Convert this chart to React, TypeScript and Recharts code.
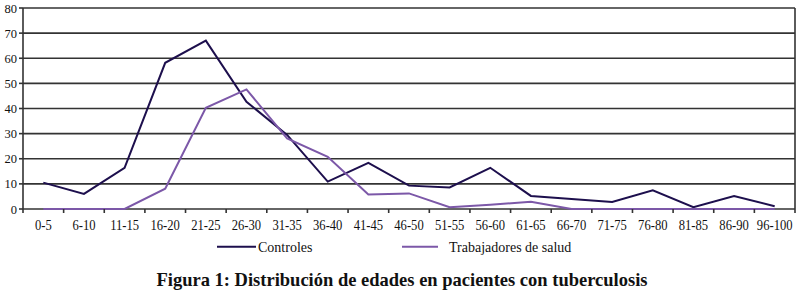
import React from 'react';
import { LineChart, Line, XAxis, YAxis, CartesianGrid } from 'recharts';

const categories = ['0-5', '6-10', '11-15', '16-20', '21-25', '26-30', '31-35', '36-40', '41-45', '46-50', '51-55', '56-60', '61-65', '66-70', '71-75', '76-80', '81-85', '86-90', '96-100'];
const controles = [10.5, 6, 16.4, 58.2, 67, 42.7, 29.5, 10.9, 18.4, 9.3, 8.6, 16.4, 5.2, 4, 2.8, 7.4, 0.7, 5.2, 1.1];
const trabajadores = [0, 0, 0, 8.1, 40.3, 47.6, 28.1, 20.8, 5.8, 6.2, 0.7, 1.7, 2.9, 0, 0, 0, 0, 0, 0];
const yTicks = [0, 10, 20, 30, 40, 50, 60, 70, 80];
const seriesNames = ['Controles', 'Trabajadores de salud'];
const seriesColors = ['#1d0f4d', '#7c58a8'];
const title = 'Figura 1: Distribución de edades en pacientes con tuberculosis';

const data = categories.map((c, i) => ({ x: i + 0.5, cat: c, controles: controles[i], trabajadores: trabajadores[i] }));
const xTicks: number[] = [];
for (let i = 0; i <= categories.length; i++) {
  xTicks.push(i);
  if (i < categories.length) xTicks.push(i + 0.5);
}

const FONT = 'Liberation Serif, Times New Roman, Times, serif';
const GRID = '#333333';
const GW = 1.6;

const XTick = (props: any) => {
  const { x, y, payload } = props;
  const v = payload.value as number;
  if (Number.isInteger(v)) {
    return <line x1={x} x2={x} y1={y} y2={y + 4} stroke={GRID} strokeWidth={GW} />;
  }
  const label = categories[Math.floor(v)];
  return (
    <text transform={`translate(${x},${y + 21}) scale(0.9,1)`} textAnchor="middle" fontFamily={FONT} fontWeight={400} fontSize={14} fill="#111">
      {label}
    </text>
  );
};

const YTick = (props: any) => {
  const { x, y, payload } = props;
  return (
    <text x={x} y={y + 4.5} textAnchor="end" fontFamily={FONT} fontWeight={400} fontSize={12.5} fill="#111">
      {payload.value}
    </text>
  );
};

const legendLine = [[217, 256], [402, 438]];
const legendText = [258, 449];

export default function App() {
  return (
    <div style={{ position: 'absolute', left: 0, top: 0, width: 800, height: 292, background: '#fff', fontFamily: FONT }}>
      <LineChart width={800} height={292} data={data} margin={{ top: 8, right: 0, left: 0, bottom: 57 }}>
        <CartesianGrid vertical={false} stroke={GRID} strokeWidth={GW} yAxisId="l" />
        <XAxis
          dataKey="x"
          type="number"
          domain={[0, categories.length]}
          ticks={xTicks}
          interval={0}
          tick={<XTick />}
          tickLine={false}
          tickSize={0}
          tickMargin={0}
          axisLine={false}
          height={26}
          allowDecimals
        />
        <YAxis
          yAxisId="l"
          domain={[0, 80]}
          ticks={yTicks}
          interval={0}
          width={23}
          tick={<YTick />}
          tickSize={4}
          tickMargin={2}
          tickLine={{ stroke: GRID, strokeWidth: GW }}
          axisLine={{ stroke: GRID, strokeWidth: GW }}
        />
        <YAxis yAxisId="r" orientation="right" width={5} domain={[0, 80]} tick={false} tickLine={false} axisLine={{ stroke: GRID, strokeWidth: GW }} />
        <Line yAxisId="l" type="linear" dataKey="controles" name={seriesNames[0]} stroke={seriesColors[0]} strokeWidth={2} dot={false} isAnimationActive={false} />
        <Line yAxisId="l" type="linear" dataKey="trabajadores" name={seriesNames[1]} stroke={seriesColors[1]} strokeWidth={2} dot={false} isAnimationActive={false} />
      </LineChart>
      <svg width={800} height={62} style={{ position: 'absolute', left: 0, top: 230, display: 'block' }}>
        {seriesNames.map((n, i) => (
          <g key={n}>
            <line x1={legendLine[i][0]} x2={legendLine[i][1]} y1={16.7} y2={16.7} stroke={seriesColors[i]} strokeWidth={2} />
            <text x={legendText[i]} y={22} fontFamily={FONT} fontWeight={400} fontSize={14} fill="#111">
              {n}
            </text>
          </g>
        ))}
        <text x={402} y={55.5} textAnchor="middle" fontFamily={FONT} fontSize={19} fontWeight="bold" fill="#111" textLength={491} lengthAdjust="spacingAndGlyphs">
          {title}
        </text>
      </svg>
    </div>
  );
}
